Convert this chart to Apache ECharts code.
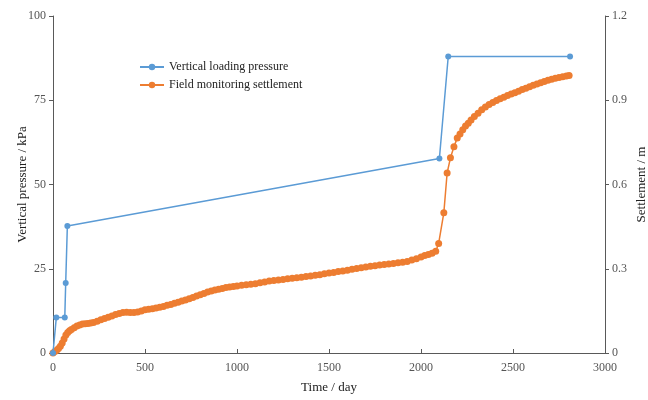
<!DOCTYPE html>
<html>
<head>
<meta charset="utf-8">
<script src="https://cdn.jsdelivr.net/npm/echarts@6/dist/echarts.min.js"></script>
<style>
html,body{margin:0;padding:0;background:#fff;}
#c{width:648px;height:400px;}
</style>
</head>
<body>
<div id="c"></div>
<script>
// Vertical loading pressure (kPa) vs time (day)
var pressureDays = [0, 18, 64, 69, 78, 2100, 2148, 2810];
var pressureKPa  = [0, 10.5, 10.5, 20.8, 37.7, 57.7, 88, 88];

// Field monitoring settlement (m) vs time (day)
var settleDays = [0,10,20,30,40,50,60,70,80,90,100,115,130,145,160,175,190,205,220,240,260,280,300,320,340,360,380,400,420,440,460,480,500,520,540,560,580,600,620,640,660,680,700,720,740,760,780,800,820,840,860,880,900,920,940,960,980,1000,1025,1050,1075,1100,1125,1150,1175,1200,1225,1250,1275,1300,1325,1350,1375,1400,1425,1450,1475,1500,1525,1550,1575,1600,1625,1650,1675,1700,1725,1750,1775,1800,1825,1850,1875,1900,1925,1950,1975,2000,2020,2040,2060,2080,2096,2124,2142,2160,2179,2197,2212,2227,2242,2257,2272,2290,2310,2330,2350,2370,2390,2410,2430,2450,2470,2490,2510,2530,2550,2570,2590,2610,2630,2650,2670,2690,2710,2730,2750,2770,2790,2805];
var settleM = [0,0.005,0.01,0.016,0.024,0.036,0.05,0.064,0.073,0.079,0.084,0.09,0.096,0.1,0.103,0.104,0.105,0.107,0.109,0.113,0.118,0.123,0.127,0.132,0.137,0.141,0.144,0.145,0.144,0.144,0.146,0.15,0.154,0.156,0.158,0.16,0.163,0.166,0.17,0.173,0.177,0.181,0.185,0.189,0.193,0.198,0.203,0.207,0.212,0.217,0.221,0.224,0.227,0.23,0.233,0.235,0.237,0.239,0.241,0.243,0.245,0.247,0.25,0.253,0.256,0.258,0.26,0.262,0.264,0.266,0.268,0.27,0.272,0.274,0.277,0.279,0.282,0.285,0.287,0.29,0.292,0.295,0.298,0.301,0.304,0.306,0.309,0.311,0.313,0.315,0.317,0.319,0.321,0.323,0.326,0.331,0.336,0.342,0.347,0.351,0.355,0.362,0.39,0.499,0.641,0.695,0.734,0.766,0.78,0.795,0.808,0.818,0.83,0.842,0.854,0.866,0.876,0.885,0.892,0.899,0.905,0.911,0.917,0.922,0.927,0.932,0.938,0.943,0.948,0.953,0.958,0.962,0.967,0.971,0.975,0.978,0.981,0.984,0.986,0.988];

var xTicks = [0, 500, 1000, 1500, 2000, 2500, 3000];
var leftTicks = [0, 25, 50, 75, 100];
var rightTicks = [0, 0.3, 0.6, 0.9, 1.2];

var seriesNames = ['Vertical loading pressure', 'Field monitoring settlement'];

function pairs(xs, ys){ return xs.map(function(x,i){ return [x, ys[i]]; }); }

var FONT = '"Liberation Serif", "DejaVu Serif", serif';
var axisColor = '#595959';
var labelColor = '#555';

var chart = echarts.init(document.getElementById('c'), null, {renderer:'canvas'});
chart.setOption({
  animation: false,
  backgroundColor: '#fff',
  textStyle: {fontFamily: FONT},
  grid: {left: 53, right: 43, top: 16, bottom: 47, containLabel: false, outerBoundsMode: 'none'},
  legend: {
    orient: 'vertical',
    left: 134, top: 56,
    itemWidth: 24, itemHeight: 8, itemGap: 6,
    textStyle: {fontFamily: FONT, fontSize: 12, color: '#222'},
    data: seriesNames
  },
  xAxis: {
    type: 'value', min: xTicks[0], max: xTicks[xTicks.length-1], interval: 500,
    name: 'Time / day', nameLocation: 'middle', nameGap: 28,
    nameTextStyle: {fontFamily: FONT, fontSize: 13, color: '#222'},
    axisLine: {show: true, lineStyle: {color: axisColor, width: 1}},
    axisTick: {show: true, inside: true, length: 4, lineStyle: {color: axisColor}},
    axisLabel: {fontFamily: FONT, fontSize: 12, color: labelColor, margin: 9,
      formatter: function(v){ return String(v); }},
    splitLine: {show: false}
  },
  yAxis: [
    {
      type: 'value', position: 'left', min: leftTicks[0], max: leftTicks[leftTicks.length-1], interval: 25,
      name: 'Vertical pressure / kPa', nameLocation: 'middle', nameGap: 24, nameRotate: 90,
      nameMoveOverlap: false,
      nameTextStyle: {fontFamily: FONT, fontSize: 13, color: '#222'},
      axisLine: {show: true, lineStyle: {color: axisColor, width: 1}},
      axisTick: {show: true, inside: false, length: 4, lineStyle: {color: axisColor}},
      axisLabel: {fontFamily: FONT, fontSize: 12, color: labelColor, margin: 7},
      splitLine: {show: false}
    },
    {
      type: 'value', position: 'right', min: rightTicks[0], max: rightTicks[rightTicks.length-1], interval: 0.3,
      name: 'Settlement / m', nameLocation: 'middle', nameGap: 30, nameRotate: 90,
      nameMoveOverlap: false,
      nameTextStyle: {fontFamily: FONT, fontSize: 13, color: '#222'},
      axisLine: {show: true, lineStyle: {color: axisColor, width: 1}},
      axisTick: {show: true, inside: false, length: 4, lineStyle: {color: axisColor}},
      axisLabel: {fontFamily: FONT, fontSize: 12, color: labelColor, margin: 7,
        formatter: function(v){ return v === 0 ? '0' : v.toFixed(1); }},
      splitLine: {show: false}
    }
  ],
  series: [
    {
      name: seriesNames[0], type: 'line', yAxisIndex: 0,
      data: pairs(pressureDays, pressureKPa),
      symbol: 'circle', symbolSize: 6, showAllSymbol: true,
      itemStyle: {color: '#5B9BD5'},
      lineStyle: {color: '#5B9BD5', width: 1.5},
      z: 3
    },
    {
      name: seriesNames[1], type: 'line', yAxisIndex: 1,
      data: pairs(settleDays, settleM),
      symbol: 'circle', symbolSize: 7, showAllSymbol: true,
      itemStyle: {color: '#ED7D31'},
      lineStyle: {color: '#ED7D31', width: 1.5},
      z: 2
    }
  ]
});
</script>
</body>
</html>
